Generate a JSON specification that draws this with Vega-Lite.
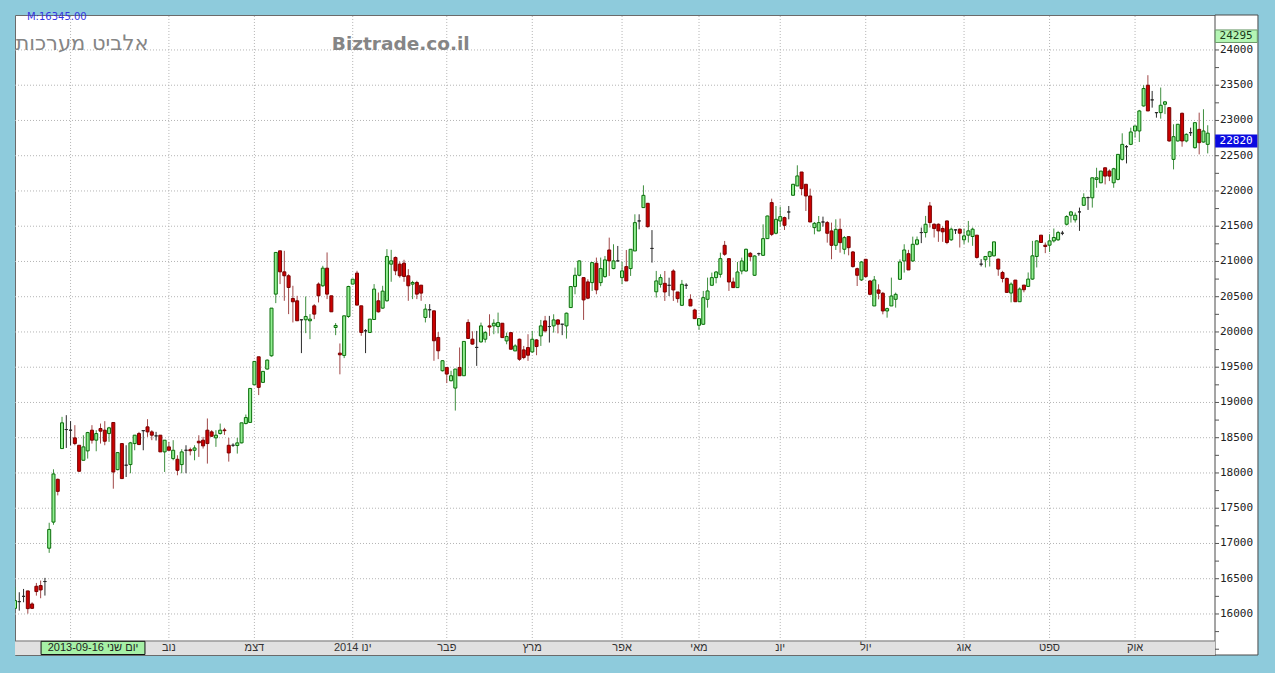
{
  "$schema": "https://vega.github.io/schema/vega-lite/v6.json",
  "width": 1200,
  "height": 640,
  "autosize": {"type": "none"},
  "padding": {"left": 15, "top": 15, "right": 60, "bottom": 18},
  "background": "#8ecbdc",
  "config": {"view": {"fill": "white", "stroke": "#6b6b6b", "strokeWidth": 1}},
  "datasets": {
    "one": [{}],
    "hgrid": [{"v":16000},{"v":16500},{"v":17000},{"v":17500},{"v":18000},{"v":18500},{"v":19000},{"v":19500},{"v":20000},{"v":20500},{"v":21000},{"v":21500},{"v":22000},{"v":22500},{"v":23000},{"v":23500},{"v":24000}],
    "minor": [{"v":15500},{"v":15750},{"v":16250},{"v":16750},{"v":17250},{"v":17750},{"v":18250},{"v":18750},{"v":19250},{"v":19750},{"v":20250},{"v":20750},{"v":21250},{"v":21750},{"v":22250},{"v":22750},{"v":23250},{"v":23750},{"v":24250}],
    "months": [{"i":13,"m":""},{"i":36,"m":"נוב"},{"i":56,"m":"דצמ"},{"i":79,"m":"2014 ינו"},{"i":101,"m":"פבר"},{"i":121,"m":"מרץ"},{"i":142,"m":"אפר"},{"i":160,"m":"מאי"},{"i":179,"m":"יונ"},{"i":199,"m":"יול"},{"i":222,"m":"אוג"},{"i":242,"m":"ספט"},{"i":262,"m":"אוק"}],
    "candles": [
{"i":0,"o":16080,"h":16380,"l":16070,"c":16190},
{"i":1,"o":16175,"h":16308,"l":16047,"c":16175},
{"i":2,"o":16250,"h":16355,"l":16166,"c":16250},
{"i":3,"o":16327,"h":16327,"l":16005,"c":16076},
{"i":4,"o":16142,"h":16165,"l":16070,"c":16080},
{"i":5,"o":16393,"h":16440,"l":16260,"c":16318},
{"i":6,"o":16403,"h":16474,"l":16223,"c":16341},
{"i":7,"o":16460,"h":16512,"l":16261,"c":16460},
{"i":8,"o":16933,"h":17294,"l":16867,"c":17199},
{"i":9,"o":17303,"h":18052,"l":17265,"c":17986},
{"i":10,"o":17910,"h":17920,"l":17682,"c":17739},
{"i":11,"o":18346,"h":18796,"l":18346,"c":18711},
{"i":12,"o":18616,"h":18820,"l":18355,"c":18616},
{"i":13,"o":18607,"h":18735,"l":18393,"c":18607},
{"i":14,"o":18498,"h":18678,"l":18393,"c":18417},
{"i":15,"o":18393,"h":18393,"l":18014,"c":18024},
{"i":16,"o":18180,"h":18535,"l":18180,"c":18370},
{"i":17,"o":18313,"h":18583,"l":18204,"c":18573},
{"i":18,"o":18607,"h":18678,"l":18417,"c":18465},
{"i":19,"o":18465,"h":18607,"l":18308,"c":18559},
{"i":20,"o":18630,"h":18701,"l":18417,"c":18593},
{"i":21,"o":18607,"h":18735,"l":18393,"c":18450},
{"i":22,"o":18559,"h":18654,"l":18441,"c":18640},
{"i":23,"o":18716,"h":18716,"l":17777,"c":18014},
{"i":24,"o":18047,"h":18289,"l":18038,"c":18289},
{"i":25,"o":18417,"h":18417,"l":17920,"c":17920},
{"i":26,"o":18110,"h":18393,"l":17943,"c":18110},
{"i":27,"o":18119,"h":18441,"l":17996,"c":18427},
{"i":28,"o":18417,"h":18536,"l":18322,"c":18536},
{"i":29,"o":18559,"h":18583,"l":18395,"c":18403},
{"i":30,"o":18600,"h":18600,"l":18322,"c":18600},
{"i":31,"o":18654,"h":18763,"l":18512,"c":18583},
{"i":32,"o":18583,"h":18607,"l":18465,"c":18536},
{"i":33,"o":18526,"h":18583,"l":18460,"c":18526},
{"i":34,"o":18536,"h":18536,"l":18299,"c":18299},
{"i":35,"o":18299,"h":18465,"l":18014,"c":18465},
{"i":36,"o":18370,"h":18441,"l":18322,"c":18322},
{"i":37,"o":18204,"h":18465,"l":18180,"c":18322},
{"i":38,"o":18194,"h":18251,"l":17967,"c":18038},
{"i":39,"o":18119,"h":18337,"l":17996,"c":18299},
{"i":40,"o":18322,"h":18393,"l":17996,"c":18322},
{"i":41,"o":18330,"h":18360,"l":18250,"c":18315},
{"i":42,"o":18322,"h":18393,"l":18180,"c":18355},
{"i":43,"o":18450,"h":18535,"l":18228,"c":18427},
{"i":44,"o":18465,"h":18512,"l":18346,"c":18384},
{"i":45,"o":18607,"h":18773,"l":18133,"c":18417},
{"i":46,"o":18583,"h":18607,"l":18510,"c":18521},
{"i":47,"o":18498,"h":18607,"l":18370,"c":18536},
{"i":48,"o":18559,"h":18701,"l":18545,"c":18607},
{"i":49,"o":18610,"h":18640,"l":18540,"c":18600},
{"i":50,"o":18393,"h":18498,"l":18161,"c":18284},
{"i":51,"o":18393,"h":18420,"l":18370,"c":18393},
{"i":52,"o":18389,"h":18498,"l":18275,"c":18427},
{"i":53,"o":18427,"h":18711,"l":18420,"c":18711},
{"i":54,"o":18701,"h":18829,"l":18690,"c":18786},
{"i":55,"o":18717,"h":19199,"l":18717,"c":19199},
{"i":56,"o":19251,"h":19582,"l":19251,"c":19582},
{"i":57,"o":19648,"h":19648,"l":19105,"c":19214},
{"i":58,"o":19285,"h":19441,"l":19285,"c":19441},
{"i":59,"o":19474,"h":19610,"l":19465,"c":19601},
{"i":60,"o":19662,"h":20338,"l":19650,"c":20338},
{"i":61,"o":20537,"h":21128,"l":20409,"c":21128},
{"i":62,"o":21151,"h":21151,"l":20679,"c":20853},
{"i":63,"o":20853,"h":21151,"l":20442,"c":20797},
{"i":64,"o":20797,"h":20820,"l":20253,"c":20631},
{"i":65,"o":20475,"h":20655,"l":20135,"c":20428},
{"i":66,"o":20442,"h":20513,"l":20159,"c":20159},
{"i":67,"o":20173,"h":20180,"l":19700,"c":20173},
{"i":68,"o":20173,"h":20503,"l":19983,"c":20220},
{"i":69,"o":20159,"h":20253,"l":19898,"c":20182},
{"i":70,"o":20371,"h":20395,"l":20182,"c":20253},
{"i":71,"o":20679,"h":20702,"l":20419,"c":20513},
{"i":72,"o":20655,"h":20939,"l":20640,"c":20905},
{"i":73,"o":20905,"h":21128,"l":20466,"c":20537},
{"i":74,"o":20513,"h":20513,"l":20286,"c":20286},
{"i":75,"o":20064,"h":20126,"l":19955,"c":20092},
{"i":76,"o":19700,"h":19837,"l":19399,"c":19676},
{"i":77,"o":19667,"h":20229,"l":19629,"c":20229},
{"i":78,"o":20220,"h":20655,"l":20200,"c":20645},
{"i":79,"o":20679,"h":20749,"l":20679,"c":20749},
{"i":80,"o":20835,"h":20868,"l":20381,"c":20381},
{"i":81,"o":20371,"h":20371,"l":19946,"c":19993},
{"i":82,"o":20017,"h":20040,"l":19700,"c":20017},
{"i":83,"o":19993,"h":20182,"l":19985,"c":20182},
{"i":84,"o":20177,"h":20679,"l":20177,"c":20608},
{"i":85,"o":20442,"h":20560,"l":20275,"c":20286},
{"i":86,"o":20338,"h":20655,"l":20330,"c":20579},
{"i":87,"o":20442,"h":21175,"l":20430,"c":21071},
{"i":88,"o":20962,"h":21165,"l":20712,"c":21009},
{"i":89,"o":21057,"h":21070,"l":20806,"c":20868},
{"i":90,"o":20962,"h":21000,"l":20770,"c":20797},
{"i":91,"o":20976,"h":21024,"l":20712,"c":20787},
{"i":92,"o":20797,"h":20891,"l":20442,"c":20655},
{"i":93,"o":20679,"h":20726,"l":20466,"c":20702},
{"i":94,"o":20702,"h":20726,"l":20466,"c":20537},
{"i":95,"o":20664,"h":20664,"l":20442,"c":20551},
{"i":96,"o":20206,"h":20395,"l":20135,"c":20324},
{"i":97,"o":20315,"h":20395,"l":20200,"c":20315},
{"i":98,"o":20300,"h":20300,"l":19591,"c":19875},
{"i":99,"o":19922,"h":20000,"l":19615,"c":19733},
{"i":100,"o":19450,"h":19600,"l":19440,"c":19592},
{"i":101,"o":19497,"h":19497,"l":19275,"c":19403},
{"i":102,"o":19308,"h":19450,"l":19300,"c":19379},
{"i":103,"o":19204,"h":19474,"l":18885,"c":19474},
{"i":104,"o":19497,"h":19780,"l":19379,"c":19379},
{"i":105,"o":19379,"h":19866,"l":19379,"c":19866},
{"i":106,"o":20135,"h":20180,"l":19900,"c":19908},
{"i":107,"o":19898,"h":20010,"l":19820,"c":19828},
{"i":108,"o":19781,"h":20015,"l":19519,"c":19781},
{"i":109,"o":19859,"h":20133,"l":19850,"c":20086},
{"i":110,"o":19897,"h":20015,"l":19850,"c":19991},
{"i":111,"o":20086,"h":20251,"l":19944,"c":20070},
{"i":112,"o":20086,"h":20180,"l":19968,"c":20124},
{"i":113,"o":20077,"h":20275,"l":19980,"c":20133},
{"i":114,"o":20124,"h":20124,"l":19920,"c":19920},
{"i":115,"o":19873,"h":19991,"l":19826,"c":19935},
{"i":116,"o":19991,"h":19991,"l":19755,"c":19755},
{"i":117,"o":19731,"h":19826,"l":19731,"c":19802},
{"i":118,"o":19897,"h":19906,"l":19590,"c":19613},
{"i":119,"o":19746,"h":19802,"l":19613,"c":19637},
{"i":120,"o":19779,"h":19968,"l":19590,"c":19670},
{"i":121,"o":19717,"h":20015,"l":19705,"c":19897},
{"i":122,"o":19887,"h":19897,"l":19670,"c":19793},
{"i":123,"o":19944,"h":20171,"l":19802,"c":20086},
{"i":124,"o":20157,"h":20228,"l":19991,"c":20015},
{"i":125,"o":20077,"h":20228,"l":19850,"c":20077},
{"i":126,"o":20086,"h":20251,"l":19991,"c":20171},
{"i":127,"o":20171,"h":20180,"l":19980,"c":20110},
{"i":128,"o":20110,"h":20110,"l":19955,"c":20110},
{"i":129,"o":20086,"h":20275,"l":19906,"c":20266},
{"i":130,"o":20346,"h":20644,"l":20340,"c":20644},
{"i":131,"o":20644,"h":20913,"l":20535,"c":20804},
{"i":132,"o":20804,"h":21015,"l":20790,"c":21008},
{"i":133,"o":20771,"h":20771,"l":20171,"c":20455},
{"i":134,"o":20710,"h":20748,"l":20465,"c":20479},
{"i":135,"o":20700,"h":20990,"l":20582,"c":20984},
{"i":136,"o":20975,"h":21055,"l":20535,"c":20597},
{"i":137,"o":20700,"h":21055,"l":20650,"c":20899},
{"i":138,"o":20785,"h":21078,"l":20770,"c":21022},
{"i":139,"o":21163,"h":21338,"l":20795,"c":21008},
{"i":140,"o":20899,"h":21244,"l":20890,"c":21008},
{"i":141,"o":21008,"h":21220,"l":21000,"c":21008},
{"i":142,"o":20771,"h":20998,"l":20677,"c":20866},
{"i":143,"o":20927,"h":21163,"l":20724,"c":20724},
{"i":144,"o":20899,"h":21173,"l":20795,"c":21173},
{"i":145,"o":21149,"h":21669,"l":21149,"c":21551},
{"i":146,"o":21575,"h":21669,"l":21456,"c":21575},
{"i":147,"o":21764,"h":22080,"l":21764,"c":21938},
{"i":148,"o":21825,"h":21830,"l":21480,"c":21494},
{"i":149,"o":21185,"h":21445,"l":20984,"c":21185},
{"i":150,"o":20570,"h":20866,"l":20488,"c":20724},
{"i":151,"o":20676,"h":20818,"l":20629,"c":20771},
{"i":152,"o":20690,"h":20865,"l":20440,"c":20567},
{"i":153,"o":20662,"h":20770,"l":20510,"c":20662},
{"i":154,"o":20865,"h":20889,"l":20440,"c":20596},
{"i":155,"o":20567,"h":20567,"l":20416,"c":20473},
{"i":156,"o":20378,"h":20738,"l":20370,"c":20676},
{"i":157,"o":20662,"h":20690,"l":20610,"c":20662},
{"i":158,"o":20463,"h":20534,"l":20369,"c":20369},
{"i":159,"o":20312,"h":20330,"l":20189,"c":20189},
{"i":160,"o":20095,"h":20189,"l":20028,"c":20189},
{"i":161,"o":20109,"h":20582,"l":20100,"c":20487},
{"i":162,"o":20463,"h":20771,"l":20345,"c":20582},
{"i":163,"o":20662,"h":20842,"l":20662,"c":20771},
{"i":164,"o":20771,"h":20865,"l":20690,"c":20851},
{"i":165,"o":20818,"h":21125,"l":20771,"c":21040},
{"i":166,"o":21229,"h":21291,"l":21080,"c":21102},
{"i":167,"o":21040,"h":21040,"l":20582,"c":20709},
{"i":168,"o":20709,"h":20771,"l":20629,"c":20629},
{"i":169,"o":20629,"h":20993,"l":20629,"c":20851},
{"i":170,"o":20865,"h":21054,"l":20818,"c":21007},
{"i":171,"o":20865,"h":21182,"l":20855,"c":21173},
{"i":172,"o":21116,"h":21135,"l":21007,"c":21069},
{"i":173,"o":20804,"h":21087,"l":20795,"c":21078},
{"i":174,"o":21111,"h":21125,"l":21080,"c":21111},
{"i":175,"o":21087,"h":21527,"l":21080,"c":21324},
{"i":176,"o":21324,"h":21650,"l":21320,"c":21645},
{"i":177,"o":21835,"h":21891,"l":21360,"c":21385},
{"i":178,"o":21400,"h":21787,"l":21385,"c":21598},
{"i":179,"o":21574,"h":21778,"l":21494,"c":21636},
{"i":180,"o":21622,"h":21636,"l":21447,"c":21513},
{"i":181,"o":21702,"h":21787,"l":21598,"c":21702},
{"i":182,"o":21939,"h":22100,"l":21935,"c":22095},
{"i":183,"o":22071,"h":22364,"l":22071,"c":22213},
{"i":184,"o":22269,"h":22269,"l":21939,"c":22033},
{"i":185,"o":22095,"h":22095,"l":21716,"c":21929},
{"i":186,"o":21929,"h":22033,"l":21560,"c":21560},
{"i":187,"o":21480,"h":21560,"l":21385,"c":21541},
{"i":188,"o":21433,"h":21645,"l":21433,"c":21551},
{"i":189,"o":21560,"h":21636,"l":21494,"c":21560},
{"i":190,"o":21551,"h":21574,"l":21267,"c":21400},
{"i":191,"o":21433,"h":21551,"l":21031,"c":21229},
{"i":192,"o":21229,"h":21598,"l":21163,"c":21456},
{"i":193,"o":21456,"h":21608,"l":21125,"c":21267},
{"i":194,"o":21173,"h":21362,"l":21102,"c":21338},
{"i":195,"o":21352,"h":21352,"l":21087,"c":21196},
{"i":196,"o":21135,"h":21149,"l":20913,"c":20927},
{"i":197,"o":20898,"h":20913,"l":20652,"c":20804},
{"i":198,"o":20738,"h":21007,"l":20723,"c":20993},
{"i":199,"o":21031,"h":21031,"l":20771,"c":20785},
{"i":200,"o":20723,"h":20738,"l":20520,"c":20534},
{"i":201,"o":20369,"h":20794,"l":20369,"c":20738},
{"i":202,"o":20596,"h":20676,"l":20463,"c":20549},
{"i":203,"o":20549,"h":20568,"l":20250,"c":20298},
{"i":204,"o":20298,"h":20345,"l":20203,"c":20331},
{"i":205,"o":20369,"h":20771,"l":20369,"c":20510},
{"i":206,"o":20463,"h":20558,"l":20345,"c":20534},
{"i":207,"o":20747,"h":21030,"l":20738,"c":20993},
{"i":208,"o":21007,"h":21244,"l":20842,"c":21163},
{"i":209,"o":21110,"h":21165,"l":20880,"c":20880},
{"i":210,"o":21007,"h":21352,"l":20993,"c":21244},
{"i":211,"o":21245,"h":21354,"l":21230,"c":21307},
{"i":212,"o":21410,"h":21481,"l":21260,"c":21410},
{"i":213,"o":21410,"h":21646,"l":21340,"c":21528},
{"i":214,"o":21788,"h":21844,"l":21481,"c":21552},
{"i":215,"o":21528,"h":21540,"l":21340,"c":21467},
{"i":216,"o":21528,"h":21540,"l":21278,"c":21434},
{"i":217,"o":21467,"h":21500,"l":21278,"c":21420},
{"i":218,"o":21575,"h":21580,"l":21245,"c":21269},
{"i":219,"o":21307,"h":21481,"l":21292,"c":21458},
{"i":220,"o":21448,"h":21458,"l":21390,"c":21448},
{"i":221,"o":21458,"h":21467,"l":21198,"c":21401},
{"i":222,"o":21307,"h":21467,"l":21245,"c":21363},
{"i":223,"o":21373,"h":21575,"l":21269,"c":21434},
{"i":224,"o":21354,"h":21481,"l":21222,"c":21458},
{"i":225,"o":21373,"h":21373,"l":21040,"c":21057},
{"i":226,"o":20962,"h":21033,"l":20930,"c":20962},
{"i":227,"o":21024,"h":21071,"l":20915,"c":21071},
{"i":228,"o":21071,"h":21150,"l":20929,"c":21137},
{"i":229,"o":21080,"h":21278,"l":21071,"c":21278},
{"i":230,"o":21033,"h":21040,"l":20797,"c":20892},
{"i":231,"o":20844,"h":20867,"l":20703,"c":20759},
{"i":232,"o":20759,"h":20773,"l":20561,"c":20561},
{"i":233,"o":20552,"h":20703,"l":20420,"c":20679},
{"i":234,"o":20736,"h":20736,"l":20429,"c":20429},
{"i":235,"o":20429,"h":20632,"l":20429,"c":20609},
{"i":236,"o":20665,"h":20665,"l":20562,"c":20599},
{"i":237,"o":20646,"h":20844,"l":20640,"c":20750},
{"i":238,"o":20750,"h":21292,"l":20740,"c":21080},
{"i":239,"o":21071,"h":21300,"l":20915,"c":21292},
{"i":240,"o":21373,"h":21373,"l":21269,"c":21269},
{"i":241,"o":21231,"h":21269,"l":21118,"c":21212},
{"i":242,"o":21231,"h":21387,"l":21135,"c":21292},
{"i":243,"o":21292,"h":21467,"l":21269,"c":21340},
{"i":244,"o":21307,"h":21434,"l":21292,"c":21410},
{"i":245,"o":21401,"h":21434,"l":21373,"c":21401},
{"i":246,"o":21528,"h":21656,"l":21510,"c":21637},
{"i":247,"o":21656,"h":21717,"l":21552,"c":21703},
{"i":248,"o":21590,"h":21694,"l":21552,"c":21656},
{"i":249,"o":21703,"h":21764,"l":21434,"c":21703},
{"i":250,"o":21797,"h":21967,"l":21787,"c":21906},
{"i":251,"o":21906,"h":21920,"l":21731,"c":21906},
{"i":252,"o":21903,"h":22190,"l":21764,"c":22187},
{"i":253,"o":22164,"h":22329,"l":22045,"c":22187},
{"i":254,"o":22116,"h":22282,"l":22110,"c":22282},
{"i":255,"o":22329,"h":22329,"l":22093,"c":22211},
{"i":256,"o":22282,"h":22306,"l":22140,"c":22211},
{"i":257,"o":22116,"h":22329,"l":22045,"c":22315},
{"i":258,"o":22164,"h":22519,"l":22150,"c":22519},
{"i":259,"o":22448,"h":22818,"l":22430,"c":22661},
{"i":260,"o":22628,"h":22650,"l":22391,"c":22628},
{"i":261,"o":22661,"h":22898,"l":22650,"c":22837},
{"i":262,"o":22851,"h":22922,"l":22756,"c":22922},
{"i":263,"o":22851,"h":23150,"l":22694,"c":23135},
{"i":264,"o":23206,"h":23500,"l":23196,"c":23453},
{"i":265,"o":23500,"h":23642,"l":23135,"c":23135},
{"i":266,"o":23292,"h":23419,"l":23182,"c":23292},
{"i":267,"o":23111,"h":23120,"l":23040,"c":23111},
{"i":268,"o":23111,"h":23467,"l":23026,"c":23216},
{"i":269,"o":23230,"h":23277,"l":23090,"c":23264},
{"i":270,"o":23182,"h":23190,"l":22700,"c":22709},
{"i":271,"o":22448,"h":22946,"l":22306,"c":22770},
{"i":272,"o":22709,"h":22946,"l":22700,"c":22946},
{"i":273,"o":23102,"h":23111,"l":22628,"c":22709},
{"i":274,"o":22709,"h":22818,"l":22690,"c":22803},
{"i":275,"o":22827,"h":22898,"l":22780,"c":22827},
{"i":276,"o":22614,"h":22969,"l":22600,"c":22969},
{"i":277,"o":22874,"h":23111,"l":22519,"c":22685},
{"i":278,"o":22694,"h":23159,"l":22685,"c":22851},
{"i":279,"o":22661,"h":22932,"l":22533,"c":22820}
    ]
  },
  "layer": [
    {
      "data": {"name": "hgrid"},
      "mark": {"type": "rule", "color": "#b4b4b4", "strokeDash": [1, 2], "strokeWidth": 1},
      "encoding": {
        "x": {"datum": 0, "type": "quantitative", "scale": {"domain": [0, 280.7], "nice": false, "zero": false, "padding": 0}, "axis": null},
        "x2": {"datum": 280.7},
        "y": {"field": "v", "type": "quantitative", "scale": {"domain": [15418, 24496], "nice": false, "zero": false}, "axis": null}
      }
    },
    {
      "data": {"name": "one"},
      "mark": {"type": "rect", "fill": "white", "stroke": "#4a4a4a", "strokeWidth": 1},
      "encoding": {
        "x": {"datum": 280.7, "type": "quantitative", "axis": null},
        "x2": {"datum": 290.75},
        "y": {"datum": 15418, "type": "quantitative", "axis": null},
        "y2": {"datum": 24496}
      }
    },
    {
      "data": {"name": "minor"},
      "mark": {"type": "rule", "color": "#555555", "strokeWidth": 1},
      "encoding": {
        "x": {"datum": 280.7, "type": "quantitative", "axis": null},
        "x2": {"datum": 281.64},
        "y": {"field": "v", "type": "quantitative", "axis": null}
      }
    },
    {
      "data": {"name": "hgrid"},
      "mark": {"type": "rule", "color": "#555555", "strokeWidth": 1},
      "encoding": {
        "x": {"datum": 280.7, "type": "quantitative", "axis": null},
        "x2": {"datum": 281.64},
        "y": {"field": "v", "type": "quantitative", "axis": null}
      }
    },
    {
      "data": {"name": "hgrid"},
      "mark": {"type": "text", "font": "DejaVu Sans Mono", "fontSize": 11, "color": "#222222", "baseline": "middle", "align": "left"},
      "encoding": {
        "x": {"datum": 281.85, "type": "quantitative", "axis": null},
        "y": {"field": "v", "type": "quantitative", "axis": null},
        "text": {"field": "v", "type": "quantitative", "format": "d"}
      }
    },
    {
      "data": {"name": "one"},
      "mark": {"type": "rect", "fill": "#e0e0e0"},
      "encoding": {
        "x": {"datum": 0, "type": "quantitative", "axis": null},
        "x2": {"datum": 280.7},
        "y": {"datum": 15617, "type": "quantitative", "axis": null},
        "y2": {"datum": 15418}
      }
    },
    {
      "data": {"name": "one"},
      "mark": {"type": "rule", "color": "#6e6e6e", "strokeWidth": 1},
      "encoding": {
        "x": {"datum": 0, "type": "quantitative", "axis": null},
        "x2": {"datum": 280.7},
        "y": {"datum": 15617, "type": "quantitative", "axis": null}
      }
    },
    {
      "data": {"name": "months"},
      "mark": {"type": "rule", "color": "#b4b4b4", "strokeDash": [1, 2], "strokeWidth": 1},
      "encoding": {
        "x": {"field": "i", "type": "quantitative", "axis": null},
        "y": {"datum": 15617, "type": "quantitative", "axis": null},
        "y2": {"datum": 24496}
      }
    },
    {
      "data": {"name": "months"},
      "mark": {"type": "text", "font": "Liberation Sans", "fontSize": 11, "color": "#333333", "baseline": "middle", "align": "center"},
      "encoding": {
        "x": {"field": "i", "type": "quantitative", "axis": null},
        "y": {"datum": 15517, "type": "quantitative", "axis": null},
        "text": {"field": "m"}
      }
    },
    {
      "data": {"name": "one"},
      "mark": {"type": "rect", "fill": "#a6f0a6", "stroke": "#111111", "strokeWidth": 1},
      "encoding": {
        "x": {"datum": 6.1, "type": "quantitative", "axis": null},
        "x2": {"datum": 30.4},
        "y": {"datum": 15612, "type": "quantitative", "axis": null},
        "y2": {"datum": 15425}
      }
    },
    {
      "data": {"name": "one"},
      "mark": {"type": "text", "font": "Liberation Sans", "fontSize": 11, "color": "#222222", "baseline": "middle", "align": "center"},
      "encoding": {
        "x": {"datum": 18.25, "type": "quantitative", "axis": null},
        "y": {"datum": 15517, "type": "quantitative", "axis": null},
        "text": {"value": "2013-09-16 יום שני"}
      }
    },
    {
      "data": {"name": "candles"},
      "mark": {"type": "rule", "strokeWidth": 1, "clip": true},
      "encoding": {
        "x": {"field": "i", "type": "quantitative", "axis": null},
        "y": {"field": "l", "type": "quantitative", "axis": null},
        "y2": {"field": "h"},
        "color": {"condition": [{"test": "datum.c > datum.o", "value": "#3f8f3f"}, {"test": "datum.c == datum.o", "value": "#2a2a2a"}], "value": "#a04848"}
      }
    },
    {
      "data": {"name": "candles"},
      "mark": {"type": "bar", "size": 3, "strokeWidth": 1, "clip": true},
      "encoding": {
        "x": {"field": "i", "type": "quantitative", "axis": null},
        "y": {"field": "o", "type": "quantitative", "axis": null},
        "y2": {"field": "c"},
        "fill": {"condition": [{"test": "datum.c > datum.o", "value": "#92ee92"}, {"test": "datum.c == datum.o", "value": "#2a2a2a"}], "value": "#cc0000"},
        "stroke": {"condition": [{"test": "datum.c > datum.o", "value": "#0a6e0a"}, {"test": "datum.c == datum.o", "value": "#2a2a2a"}], "value": "#7a0000"}
      }
    },
    {
      "data": {"name": "one"},
      "mark": {"type": "text", "font": "DejaVu Sans", "fontSize": 21, "color": "#858585", "baseline": "alphabetic", "align": "left"},
      "encoding": {
        "x": {"datum": 0.1, "type": "quantitative", "axis": null},
        "y": {"datum": 24000, "type": "quantitative", "axis": null},
        "text": {"value": "אלביט מערכות"}
      }
    },
    {
      "data": {"name": "one"},
      "mark": {"type": "text", "font": "DejaVu Sans", "fontSize": 18.5, "fontWeight": "bold", "color": "#858585", "baseline": "alphabetic", "align": "left"},
      "encoding": {
        "x": {"datum": 74.1, "type": "quantitative", "axis": null},
        "y": {"datum": 24000, "type": "quantitative", "axis": null},
        "text": {"value": "Biztrade.co.il"}
      }
    },
    {
      "data": {"name": "one"},
      "mark": {"type": "text", "font": "DejaVu Sans", "fontSize": 10, "color": "#3535e0", "baseline": "alphabetic", "align": "left"},
      "encoding": {
        "x": {"datum": 2.8, "type": "quantitative", "axis": null},
        "y": {"datum": 24426, "type": "quantitative", "axis": null},
        "text": {"value": "M:16345.00"}
      }
    },
    {
      "data": {"name": "one"},
      "mark": {"type": "rect", "fill": "#b4f5b4", "stroke": "#6a9a6a", "strokeWidth": 1},
      "encoding": {
        "x": {"datum": 280.75, "type": "quantitative", "axis": null},
        "x2": {"datum": 290.6},
        "y": {"datum": 24284, "type": "quantitative", "axis": null},
        "y2": {"datum": 24106}
      }
    },
    {
      "data": {"name": "one"},
      "mark": {"type": "text", "font": "DejaVu Sans Mono", "fontSize": 11, "color": "#1a3a1a", "baseline": "middle", "align": "center"},
      "encoding": {
        "x": {"datum": 285.65, "type": "quantitative", "axis": null},
        "y": {"datum": 24195, "type": "quantitative", "axis": null},
        "text": {"value": "24295"}
      }
    },
    {
      "data": {"name": "one"},
      "mark": {"type": "rect", "fill": "#0a0ae0"},
      "encoding": {
        "x": {"datum": 280.75, "type": "quantitative", "axis": null},
        "x2": {"datum": 290.6},
        "y": {"datum": 22800, "type": "quantitative", "axis": null},
        "y2": {"datum": 22615}
      }
    },
    {
      "data": {"name": "one"},
      "mark": {"type": "text", "font": "DejaVu Sans Mono", "fontSize": 11, "color": "#ffffff", "baseline": "middle", "align": "center"},
      "encoding": {
        "x": {"datum": 285.65, "type": "quantitative", "axis": null},
        "y": {"datum": 22707, "type": "quantitative", "axis": null},
        "text": {"value": "22820"}
      }
    }
  ]
}
